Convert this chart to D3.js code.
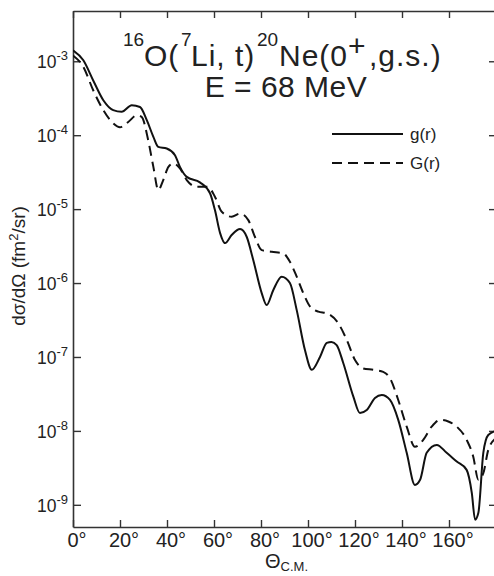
<!DOCTYPE html>
<html>
<head>
<meta charset="utf-8">
<script src="https://cdn.jsdelivr.net/npm/d3@7"></script>
<style>
	body { margin: 0; background: #fff; }
	svg text { font-family: "Liberation Sans", Arial, sans-serif; fill: #222; }
</style>
</head>
<body>
<div id="chart"></div>
<script>
// g(r) solid curve, angle (deg) and dsigma/dOmega (fm2/sr)
const angles_g = [0, 4.4, 8.6, 12.9, 17.1, 20.7, 25.0, 28.5, 31.4, 34.2, 36.3, 39.9, 43.4, 45.5, 48.4, 54.0,
	58.3, 60.4, 62.6, 64.7, 67.5, 71.1, 73.9, 76.7, 80.3, 82.4, 85.2, 88.8, 92.3, 95.2, 98.7, 101.6,
	105.1, 108.0, 110.0, 112.2, 115.0, 119.3, 122.1, 125.0, 128.5, 131.4, 134.9, 138.4, 142.0, 145.5,
	147.7, 150.5, 154.8, 159.0, 163.3, 167.5, 169.7, 171.1, 172.5, 174.6, 176.7, 180]
const values_g = [1.41e-3, 1.03e-3, 5.5e-4, 2.97e-4, 2.18e-4, 2.07e-4, 2.54e-4, 2.41e-4, 1.6e-4, 9.5e-5, 6.95e-5, 6.6e-5, 5.37e-5, 3.73e-5, 2.73e-5, 2.3e-5,
	1.64e-5, 9.7e-6, 4.74e-6, 3.47e-6, 4.46e-6, 5.37e-6, 4.23e-6, 2.05e-6, 7.3e-7, 5.04e-7, 8.0e-7, 1.22e-6, 1.0e-6, 4.3e-7, 1.24e-7, 6.7e-8,
	1.0e-7, 1.55e-7, 1.6e-7, 1.45e-7, 8.3e-8, 2.91e-8, 1.75e-8, 1.92e-8, 2.79e-8, 3.06e-8, 2.62e-8, 1.41e-8, 5.05e-9, 1.86e-9,
	2.18e-9, 5.05e-9, 6.47e-9, 5.05e-9, 3.85e-9, 2.97e-9, 1.45e-9, 6.3e-10, 7.8e-10, 5.05e-9, 8.8e-9, 1.0e-8]

// G(r) dashed curve
const angles_G = [0, 4.4, 8.6, 12.9, 17.1, 20.0, 23.5, 27.1, 29.2, 32.0, 34.2, 36.3, 38.4, 40.6, 42.7, 45.5, 48.4, 52.6,
	57.4, 60.4, 63.3, 67.5, 71.1, 74.6, 77.4, 80.3, 84.6, 89.5, 92.3, 95.2, 98.0, 100.9, 104.4, 108.0,
	112.9, 116.5, 120.0, 123.5, 127.8, 132.0, 134.9, 138.4, 142.0, 145.5, 149.1, 152.6, 156.2, 159.7, 163.3,
	167.5, 170.3, 172.5, 174.6, 176.7, 180]
const values_G = [1.2e-3, 8.4e-4, 4.05e-4, 2.18e-4, 1.45e-4, 1.28e-4, 1.51e-4, 1.86e-4, 1.77e-4, 8.55e-5, 3.73e-5, 1.81e-5, 2.47e-5, 3.73e-5, 4.15e-5, 3.55e-5, 2.47e-5, 2.0e-5,
	2.0e-5, 1.47e-5, 9.2e-6, 7.9e-6, 8.7e-6, 7.1e-6, 4.23e-6, 2.79e-6, 2.65e-6, 2.52e-6, 1.94e-6, 1.22e-6, 7.3e-7, 4.79e-7, 4.1e-7, 3.9e-7,
	2.85e-7, 1.7e-7, 9.1e-8, 7.0e-8, 6.7e-8, 6.3e-8, 5.15e-8, 2.62e-8, 1.14e-8, 6.1e-9, 7.6e-9, 1.14e-8, 1.41e-8, 1.34e-8, 1.14e-8,
	7.6e-9, 4.5e-9, 2.18e-9, 2.68e-9, 5.5e-9, 8.0e-9]

const x_ticks = [0, 20, 40, 60, 80, 100, 120, 140, 160]
const y_exponents = [-3, -4, -5, -6, -7, -8, -9]

const width = 494
const height = 576
const plot_left = 73, plot_right = 496, plot_top = 11, plot_bottom = 527
const axis_color = "#333"

let svg = d3.select("#chart")
	.append("svg")
	.attr("width", width)
	.attr("height", height)

let x = d3.scaleLinear()
	.domain([0, 180])
	.range([plot_left, plot_right])

let y = d3.scaleLog()
	.domain([Math.pow(10, -9.3), Math.pow(10, -2.32)])
	.range([plot_bottom, plot_top])

svg.append("clipPath")
	.attr("id", "plot_clip")
	.append("rect")
	.attr("x", plot_left)
	.attr("y", plot_top)
	.attr("width", plot_right - plot_left)
	.attr("height", plot_bottom - plot_top)

// axes: ticks pointing inwards on all four sides
let x_bottom = d3.axisBottom(x).tickValues(x_ticks).tickSizeInner(-7).tickSizeOuter(0).tickFormat("")
let x_top = d3.axisTop(x).tickValues(x_ticks).tickSizeInner(-7).tickSizeOuter(0).tickFormat("")
let y_vals = y_exponents.map(e => Math.pow(10, e))
let y_left = d3.axisLeft(y).tickValues(y_vals).tickSizeInner(-8).tickSizeOuter(0).tickFormat("")
let y_right = d3.axisRight(y).tickValues(y_vals).tickSizeInner(-7).tickSizeOuter(0).tickFormat("")

function style_axis(g){
	g.select(".domain").attr("stroke", axis_color).attr("stroke-width", 1.6)
	g.selectAll(".tick line").attr("stroke", axis_color).attr("stroke-width", 1.4)
}

svg.append("g").attr("transform", "translate(0," + plot_bottom + ")").call(x_bottom).call(style_axis)
svg.append("g").attr("transform", "translate(0," + plot_top + ")").call(x_top).call(style_axis)
svg.append("g").attr("transform", "translate(" + plot_left + ",0)").call(y_left).call(style_axis)
svg.append("g").attr("transform", "translate(" + plot_right + ",0)").call(y_right).call(style_axis)

// x tick labels, digits centred on the tick
svg.append("g")
	.selectAll("text")
	.data(x_ticks)
	.join("text")
	.attr("x", d => x(d) + 4)
	.attr("y", plot_bottom + 20)
	.attr("text-anchor", "middle")
	.attr("font-size", 20)
	.text(d => d + "°")

// y tick labels 10^n
let y_labels = svg.append("g")
	.selectAll("text")
	.data(y_exponents)
	.join("text")
	.attr("x", 68)
	.attr("y", d => y(Math.pow(10, d)) + 7)
	.attr("text-anchor", "end")
	.attr("font-size", 17.5)
y_labels.append("tspan").text("10")
y_labels.append("tspan")
	.attr("font-size", 13)
	.attr("dy", -8)
	.text(d => "-" + Math.abs(d))

// curves
let line = d3.line()
	.x(d => x(d[0]))
	.y(d => y(d[1]))
	.curve(d3.curveMonotoneX)

let curves = svg.append("g").attr("clip-path", "url(#plot_clip)")

curves.append("path")
	.datum(angles_G.map((a, i) => [a, values_G[i]]))
	.attr("d", line)
	.attr("fill", "none")
	.attr("stroke", "#111")
	.attr("stroke-width", 2)
	.attr("stroke-dasharray", "10,6")

curves.append("path")
	.datum(angles_g.map((a, i) => [a, values_g[i]]))
	.attr("d", line)
	.attr("fill", "none")
	.attr("stroke", "#111")
	.attr("stroke-width", 2)

// title
let title = svg.append("text")
	.attr("font-size", 30)
	.attr("letter-spacing", 1)
title.append("tspan").attr("x", 123).attr("y", 46).attr("font-size", 19).attr("letter-spacing", 0).text("16")
title.append("tspan").attr("x", 144).attr("y", 66).text("O(")
title.append("tspan").attr("x", 181).attr("y", 46).attr("font-size", 19).attr("letter-spacing", 0).text("7")
title.append("tspan").attr("x", 191).attr("y", 66).text("Li, t)")
title.append("tspan").attr("x", 257).attr("y", 46).attr("font-size", 19).attr("letter-spacing", 0).text("20")
title.append("tspan").attr("x", 279).attr("y", 66).text("Ne(0")
title.append("tspan").attr("x", 348).attr("y", 56).text("+")
title.append("tspan").attr("x", 369).attr("y", 66).text(",g.s.)")

svg.append("text")
	.attr("x", 286)
	.attr("y", 97)
	.attr("text-anchor", "middle")
	.attr("font-size", 30)
	.attr("letter-spacing", 0.5)
	.text("E = 68 MeV")

// legend
const legend_names = ["g(r)", "G(r)"]
const legend_dash = [null, "10,6"]
let legend = svg.append("g")
	.selectAll("g")
	.data(legend_names)
	.join("g")
	.attr("transform", (d, i) => "translate(332," + (134 + i * 29) + ")")
legend.append("line")
	.attr("x1", 0)
	.attr("x2", 71)
	.attr("stroke", "#111")
	.attr("stroke-width", 2)
	.attr("stroke-dasharray", (d, i) => legend_dash[i])
legend.append("text")
	.attr("x", 78)
	.attr("y", 6)
	.attr("font-size", 17)
	.text(d => d)

// axis titles
let y_title = svg.append("text")
	.attr("transform", "translate(25,266) rotate(-90)")
	.attr("text-anchor", "middle")
	.attr("font-size", 19)
y_title.append("tspan").text("dσ/dΩ (fm")
y_title.append("tspan").attr("font-size", 13).attr("dy", -7).text("2")
y_title.append("tspan").attr("dy", 7).text("/sr)")

let x_title = svg.append("text")
	.attr("x", 265)
	.attr("y", 568)
	.attr("font-size", 20)
x_title.append("tspan").text("Θ")
x_title.append("tspan").attr("font-size", 13).attr("dy", 3).text("C.M.")
</script>
</body>
</html>
